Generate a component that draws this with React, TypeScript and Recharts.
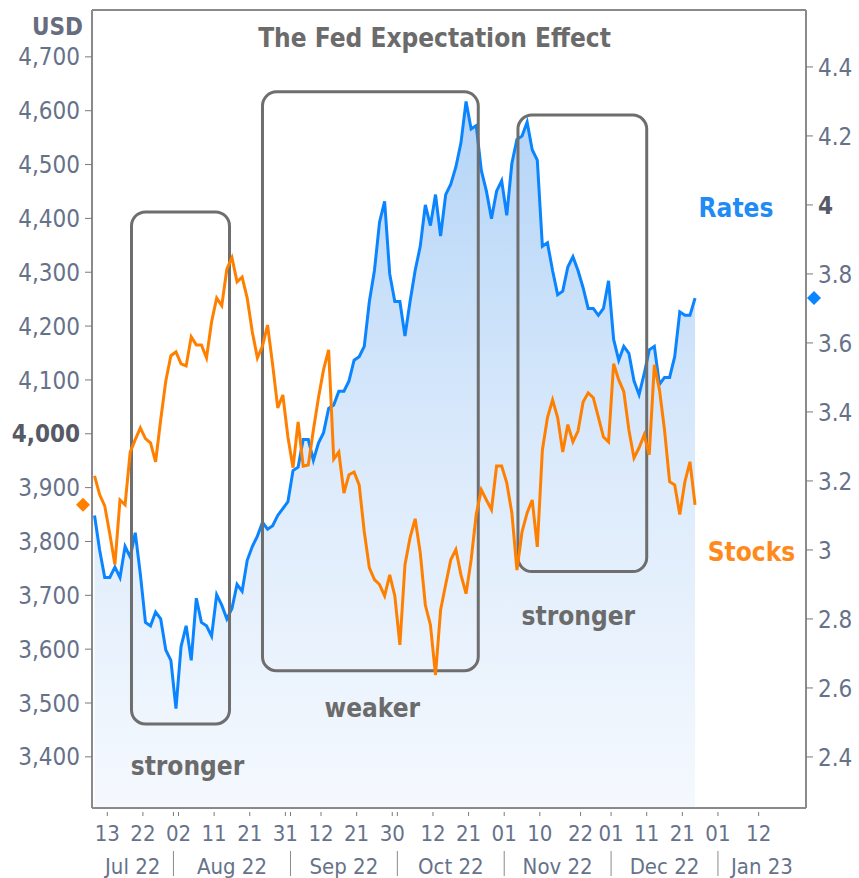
import React from "react";
import {
  ComposedChart,
  Line,
  Area,
  XAxis,
  YAxis,
  ReferenceArea,
  ReferenceDot,
  ReferenceLine,
} from "recharts";

const FONT = "'DejaVu Sans Condensed', 'DejaVu Sans', sans-serif";

// ---- calendar ----
const startDate = "2022-07-08";
const holidays = ["2022-09-05", "2022-11-24", "2022-12-26"];

// ---- series (one value per trading day, Jul 8 2022 .. Dec 23 2022) ----
const stocks = [
  3922, 3887, 3866, 3814, 3757, 3877, 3868, 3966, 3989, 4011,
  3991, 3983, 3948, 4026, 4098, 4145, 4152, 4130, 4126, 4180,
  4165, 4165, 4141, 4208, 4252, 4238, 4306, 4327, 4282, 4291,
  4252, 4189, 4141, 4163, 4202, 4128, 4048, 4072, 3994, 3937,
  4022, 3940, 3942, 4007, 4067, 4119, 4156, 3953, 3966, 3890,
  3924, 3929, 3905, 3818, 3751, 3729, 3720, 3699, 3738, 3699,
  3608, 3757, 3807, 3842, 3779, 3682, 3645, 3552, 3673, 3720,
  3766, 3785, 3738, 3703, 3766, 3850, 3896, 3877, 3859, 3940,
  3940, 3909, 3853, 3747, 3818, 3853, 3877, 3790, 3970, 4030,
  4063, 4030, 3966, 4017, 3985, 4005, 4059, 4076, 4067, 4031,
  3994, 3985, 4130, 4100, 4078, 4007, 3955, 3974, 3998, 3961,
  4128, 4082, 4007, 3911, 3905, 3850, 3911, 3948, 3868,
];

const rates = [
  3.10, 3.00, 2.92, 2.92, 2.95, 2.92, 3.01, 2.98, 3.05, 2.93,
  2.79, 2.78, 2.82, 2.80, 2.71, 2.68, 2.54, 2.72, 2.78, 2.68,
  2.86, 2.79, 2.78, 2.75, 2.87, 2.84, 2.80, 2.83, 2.90, 2.88,
  2.97, 3.01, 3.04, 3.08, 3.06, 3.07, 3.10, 3.12, 3.14, 3.23,
  3.24, 3.32, 3.32, 3.26, 3.31, 3.34, 3.41, 3.42, 3.46, 3.46,
  3.49, 3.55, 3.56, 3.59, 3.72, 3.81, 3.95, 4.01, 3.80, 3.72,
  3.72, 3.62, 3.72, 3.81, 3.88, 4.00, 3.94, 4.03, 3.91, 4.03,
  4.06, 4.11, 4.18, 4.30, 4.22, 4.23, 4.10, 4.04, 3.96, 4.04,
  4.07, 3.97, 4.12, 4.19, 4.20, 4.24, 4.16, 4.13, 3.88, 3.89,
  3.81, 3.74, 3.75, 3.82, 3.85, 3.81, 3.76, 3.70, 3.70, 3.68,
  3.70, 3.78, 3.61, 3.55, 3.59, 3.57, 3.49, 3.45, 3.51, 3.58,
  3.59, 3.48, 3.50, 3.50, 3.56, 3.69, 3.68, 3.68, 3.73,
];

// ---- axis ticks ----
const stockTicks = [3400, 3500, 3600, 3700, 3800, 3900, 4000, 4100, 4200, 4300, 4400, 4500, 4600, 4700];
const rateTicks = [2.4, 2.6, 2.8, 3, 3.2, 3.4, 3.6, 3.8, 4, 4.2, 4.4];
const dayTickDates = [
  "2022-07-13", "2022-07-22", "2022-08-02", "2022-08-11", "2022-08-21",
  "2022-08-31", "2022-09-12", "2022-09-21", "2022-09-30", "2022-10-12",
  "2022-10-21", "2022-11-01", "2022-11-10", "2022-11-22", "2022-12-01",
  "2022-12-11", "2022-12-21", "2023-01-01", "2023-01-12",
];
const monthStartDates = ["2022-08-01", "2022-09-01", "2022-10-01", "2022-11-01", "2022-12-01", "2023-01-01"];
const monthLabels = ["Jul 22", "Aug 22", "Sep 22", "Oct 22", "Nov 22", "Dec 22", "Jan 23"];

// ---- annotations (data units: x = trading-day index, y = USD) ----
const boxes = [
  { label: "stronger", x1: 7.76, x2: 27.02, y1: 3461, y2: 4412, dx: 7, dy: 51 },
  { label: "weaker", x1: 33.5, x2: 75.9, y1: 3560, y2: 4635, dx: 2, dy: 46 },
  { label: "stronger", x1: 83.7, x2: 109.0, y1: 3744, y2: 4592, dx: -4, dy: 53 },
];

const X_DOMAIN: [number, number] = [0, 140.3];
const LEFT_DOMAIN: [number, number] = [3305, 4787];
const RIGHT_DOMAIN: [number, number] = [2.252, 4.565];

const DAY = 86400000;
const parse = (s: string) => {
  const [y, m, d] = s.split("-").map(Number);
  return Date.UTC(y, m - 1, d);
};
const iso = (t: number) => new Date(t).toISOString().slice(0, 10);
const isTrading = (t: number) => {
  const wd = new Date(t).getUTCDay();
  return wd !== 0 && wd !== 6 && !holidays.includes(iso(t));
};
const tradingIndex = (s: string) => {
  let n = 0;
  const end = parse(s);
  for (let t = parse(startDate); t < end; t += DAY) if (isTrading(t)) n++;
  return n;
};
const tradingDates: string[] = [];
for (let t = parse(startDate); tradingDates.length < stocks.length; t += DAY) {
  if (isTrading(t)) tradingDates.push(iso(t));
}

const rows = stocks.map((s, i) => ({ x: i + 0.5, date: tradingDates[i], stocks: s, rates: rates[i] }));

const dayTickMap = new Map<number, string>();
dayTickDates.forEach((d) => dayTickMap.set(tradingIndex(d), d.slice(8, 10)));
const boundaries = monthStartDates.map(tradingIndex);
const boundarySet = new Set(boundaries);
const edges = [X_DOMAIN[0], ...boundaries, X_DOMAIN[1]];
const monthMap = new Map<number, string>();
monthLabels.forEach((lab, i) => monthMap.set((edges[i] + edges[i + 1]) / 2, lab));
const xTicks = Array.from(new Set([...dayTickMap.keys(), ...boundaries, ...monthMap.keys()])).sort((a, b) => a - b);

const LABEL = "#66728a";
const FRAME = "#8a8a8a";

const XTick = (props: any) => {
  const { x, y, payload } = props;
  const v = payload.value;
  const day = dayTickMap.get(v);
  const isB = boundarySet.has(v);
  const month = monthMap.get(v);
  return (
    <g>
      {(day !== undefined || isB) && <line x1={x} x2={x} y1={y + 4} y2={y + 8} stroke="#7a7a7a" strokeWidth={1} />}
      {isB && <line x1={x} x2={x} y1={y + 43} y2={y + 68} stroke="#8a8a8a" strokeWidth={1} />}
      {day !== undefined && (
        <text x={x} y={y + 25} dy="0.36em" textAnchor="middle" fontFamily={FONT} fontSize={22} fill={LABEL}>
          {day}
        </text>
      )}
      {month !== undefined && (
        <text x={x} y={y + 58} dy="0.36em" textAnchor="middle" fontFamily={FONT} fontSize={22} fill={LABEL}>
          {month}
        </text>
      )}
    </g>
  );
};

const LeftTick = (props: any) => {
  const { x, y, payload } = props;
  const bold = payload.value === 4000;
  return (
    <text x={x} y={y} dy="0.36em" textAnchor="end" fontFamily={FONT} fontSize={24}
      fill={bold ? "#555a66" : LABEL} fontWeight={bold ? "bold" : "normal"}>
      {Number(payload.value).toLocaleString("en-US")}
    </text>
  );
};

const RightTick = (props: any) => {
  const { x, y, payload } = props;
  const v = Number(payload.value);
  const bold = Math.abs(v - 4) < 1e-9;
  const txt = Math.abs(v - Math.round(v)) < 1e-9 ? String(Math.round(v)) : v.toFixed(1);
  return (
    <text x={x} y={y} dy="0.36em" textAnchor="start" fontFamily={FONT} fontSize={24}
      fill={bold ? "#555a66" : LABEL} fontWeight={bold ? "bold" : "normal"}>
      {txt}
    </text>
  );
};

const makeBox = (label: string, dx: number, dy: number) => (props: any) => {
  const { x, y, width, height } = props;
  return (
    <g>
      <rect x={x} y={y} width={width} height={height} rx={14} ry={14} fill="none" stroke="#6e6e6e" strokeWidth={3} />
      <text x={x + width / 2 + dx} y={y + height + dy} textAnchor="middle" fontFamily={FONT}
        fontSize={26} fontWeight="bold" fill="#6b6b6b">
        {label}
      </text>
    </g>
  );
};

const diamond = (dx: number, color: string) => (props: any) => {
  const { cx, cy } = props;
  const c = cx + dx;
  const h = 7;
  return <path d={`M${c},${cy - h}L${c + h},${cy}L${c},${cy + h}L${c - h},${cy}Z`} fill={color} />;
};

export default function App() {
  const lastStock = stocks[stocks.length - 1];
  const lastRate = rates[rates.length - 1];
  return (
    <div style={{ position: "absolute", left: 0, top: 0, width: 859, height: 878, background: "#fff" }}>
      <ComposedChart width={859} height={878} data={rows} margin={{ top: 10, right: 0, bottom: 0, left: 0 }}>
        <defs>
          <linearGradient id="rateFill" x1="0" y1="0" x2="0" y2="1">
            <stop offset="0%" stopColor="#b3d4f7" />
            <stop offset="50%" stopColor="#dbeafb" />
            <stop offset="100%" stopColor="#f5f9fe" />
          </linearGradient>
        </defs>
        <XAxis dataKey="x" type="number" domain={X_DOMAIN} ticks={xTicks} interval={0} height={70}
          tickSize={0} tickMargin={0} tickLine={false} axisLine={{ stroke: FRAME, strokeWidth: 2 }}
          tick={XTick} allowDataOverflow />
        <YAxis yAxisId="left" orientation="left" width={92} type="number" domain={LEFT_DOMAIN}
          ticks={stockTicks} interval={0} tickSize={7} tickMargin={5}
          tickLine={{ stroke: "#7a7a7a" }} axisLine={{ stroke: FRAME, strokeWidth: 2 }}
          tick={LeftTick} allowDataOverflow />
        <YAxis yAxisId="right" orientation="right" width={53} type="number" domain={RIGHT_DOMAIN}
          ticks={rateTicks} interval={0} tickSize={7} tickMargin={5}
          tickLine={{ stroke: "#7a7a7a" }} axisLine={{ stroke: FRAME, strokeWidth: 2 }}
          tick={RightTick} allowDataOverflow />
        <ReferenceLine yAxisId="left" y={LEFT_DOMAIN[1]} stroke={FRAME} strokeWidth={2} />
        <Area yAxisId="right" dataKey="rates" type="linear" stroke="#0a84ff" strokeWidth={3}
          fill="url(#rateFill)" fillOpacity={1} dot={false} activeDot={false} isAnimationActive={false} />
        <Line yAxisId="left" dataKey="stocks" type="linear" stroke="#ff8000" strokeWidth={3}
          dot={false} activeDot={false} isAnimationActive={false} />
        {boxes.map((b, i) => (
          <ReferenceArea key={i} yAxisId="left" x1={b.x1} x2={b.x2} y1={b.y1} y2={b.y2}
            ifOverflow="visible" shape={makeBox(b.label, b.dx, b.dy)} />
        ))}
        <ReferenceDot yAxisId="left" x={X_DOMAIN[0]} y={lastStock} ifOverflow="visible" shape={diamond(-9, "#ff8000")} />
        <ReferenceDot yAxisId="right" x={X_DOMAIN[1]} y={lastRate} ifOverflow="visible" shape={diamond(8, "#0a84ff")} />
      </ComposedChart>
      <svg width={859} height={878} style={{ position: "absolute", left: 0, top: 0, pointerEvents: "none" }}>
        <text x={434.5} y={47} textAnchor="middle" fontFamily={FONT} fontSize={26} fontWeight="bold" fill="#6b6b6b">
          The Fed Expectation Effect
        </text>
        <text x={83} y={35} textAnchor="end" fontFamily={FONT} fontSize={24} fontWeight="bold" fill="#676d7e">
          USD
        </text>
        <text x={736} y={217} textAnchor="middle" fontFamily={FONT} fontSize={26} fontWeight="bold" fill="#1f8cf5">
          Rates
        </text>
        <text x={751.5} y={561} textAnchor="middle" fontFamily={FONT} fontSize={26} fontWeight="bold" fill="#ff8a1c">
          Stocks
        </text>
      </svg>
    </div>
  );
}
